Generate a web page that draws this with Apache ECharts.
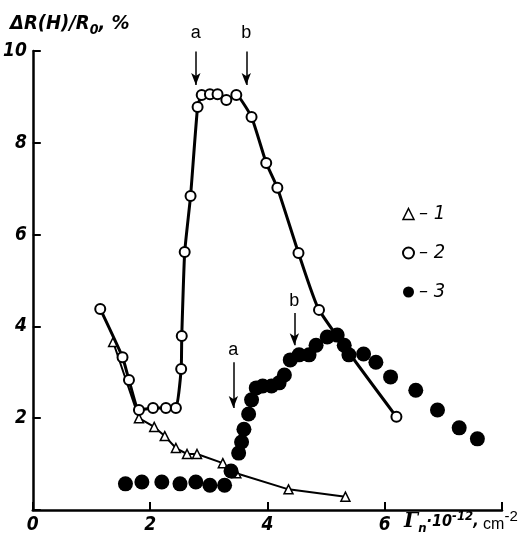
<!DOCTYPE html>
<html>
<head>
<meta charset="utf-8">
<script src="https://cdn.jsdelivr.net/npm/echarts@6/dist/echarts.min.js"></script>
<style>
  html, body { margin: 0; padding: 0; background: #fff; }
  #chart { width: 531px; height: 545px; }
</style>
</head>
<body>
<div id="chart"></div>
<script>
// series 1 : triangles
const s1X = [1.37, 1.81, 2.07, 2.25, 2.44, 2.63, 2.80, 3.24, 3.47, 4.36, 5.33];
const s1Y = [3.66, 2.00, 1.81, 1.61, 1.35, 1.22, 1.22, 1.02, 0.80, 0.45, 0.29];
// series 2 : open circles
const s2X = [1.15, 1.53, 1.64, 1.81, 2.05, 2.27, 2.44, 2.53, 2.54, 2.59, 2.69, 2.81, 2.88, 3.02, 3.15, 3.30, 3.47, 3.73, 3.98, 4.17, 4.53, 4.88, 6.20];
const s2Y = [4.38, 3.33, 2.83, 2.18, 2.22, 2.22, 2.22, 3.07, 3.79, 5.62, 6.84, 8.78, 9.04, 9.06, 9.06, 8.93, 9.04, 8.56, 7.56, 7.02, 5.60, 4.36, 2.03];
// series 3 : filled circles
const s3X = [1.58, 1.86, 2.20, 2.51, 2.78, 3.02, 3.27, 3.38, 3.51, 3.56, 3.60, 3.68, 3.73, 3.81, 3.92, 4.07, 4.20, 4.29, 4.39, 4.54, 4.71, 4.83, 5.02, 5.19, 5.31, 5.39, 5.64, 5.85, 6.10, 6.53, 6.90, 7.27, 7.58];
const s3Y = [0.57, 0.61, 0.61, 0.57, 0.61, 0.54, 0.54, 0.85, 1.24, 1.48, 1.76, 2.09, 2.40, 2.66, 2.70, 2.70, 2.77, 2.94, 3.27, 3.38, 3.38, 3.59, 3.77, 3.81, 3.59, 3.38, 3.40, 3.22, 2.90, 2.61, 2.18, 1.79, 1.55];
// arrows: [label, x, yFrom, yTo, labelDistance]
const arrows = [
  ['a', 2.78, 9.99, 9.26, 9],
  ['b', 3.64, 9.99, 9.26, 9],
  ['a', 3.42, 3.22, 2.22, 3],
  ['b', 4.46, 4.29, 3.59, 3]
];
const xTicks = [0, 2, 4, 6];
const yTicks = [2, 4, 6, 8, 10];

const zip = (xs, ys) => xs.map((x, i) => [x, ys[i]]);
const labelFont = {
  fontFamily: 'Liberation Sans Narrow, DejaVu Sans Condensed, sans-serif',
  fontStyle: 'italic', fontWeight: 'bold', color: '#000'
};

let chart = echarts.init(document.getElementById('chart'));
chart.setOption({
  backgroundColor: '#fff',
  animation: false,
  grid: { left: 32, right: 29, top: 51, bottom: 35 },
  xAxis: {
    type: 'value', min: 0, max: 8, interval: 2,
    axisLine: { show: true, onZero: false, lineStyle: { color: '#000', width: 2.5 } },
    axisTick: { show: true, inside: true, length: 8, lineStyle: { color: '#000', width: 2 } },
    splitLine: { show: false },
    axisLabel: {
      ...labelFont, fontSize: 19, margin: 6, showMaxLabel: true,
      formatter: v => xTicks.includes(v) ? String(v) : ''
    }
  },
  yAxis: {
    type: 'value', min: 0, max: 10, interval: 2,
    axisLine: { show: true, lineStyle: { color: '#000', width: 2.5 } },
    axisTick: { show: true, inside: true, length: 8, lineStyle: { color: '#000', width: 2 } },
    splitLine: { show: false },
    axisLabel: {
      ...labelFont, fontSize: 19, margin: 6,
      formatter: v => yTicks.includes(v) ? String(v) : ''
    }
  },
  legend: {
    orient: 'vertical', left: 397, top: 199, itemGap: 19,
    itemWidth: 11, itemHeight: 11,
    textStyle: { ...labelFont, fontSize: 20, fontWeight: 'normal' },
    formatter: name => '– ' + name,
    data: [
      { name: '1', icon: 'triangle', itemStyle: { color: '#fff', borderColor: '#000', borderWidth: 1.5 } },
      { name: '2', icon: 'circle', itemStyle: { color: '#fff', borderColor: '#000', borderWidth: 2 } },
      { name: '3', icon: 'circle', itemStyle: { color: '#000' } }
    ]
  },
  series: [
    {
      name: '1', type: 'line', data: zip(s1X, s1Y),
      symbol: 'triangle', symbolSize: 9,
      lineStyle: { color: '#000', width: 2 },
      itemStyle: { color: '#fff', borderColor: '#000', borderWidth: 1.5 },
      z: 3
    },
    {
      name: '2', type: 'line', data: zip(s2X, s2Y), smooth: 0.15,
      symbol: 'circle', symbolSize: 10, clip: false,
      lineStyle: { color: '#000', width: 3 },
      itemStyle: { color: '#fff', borderColor: '#000', borderWidth: 2 },
      z: 4,
      markLine: {
        silent: true, animation: false,
        lineStyle: { color: '#000', width: 1.5, type: 'solid' },
        symbol: ['none', 'arrow'], symbolSize: [7, 12],
        label: { show: true, position: 'start', fontSize: 18, color: '#000', fontFamily: 'Liberation Sans, sans-serif', formatter: p => p.name },
        data: arrows.map(a => [
          { name: a[0], coord: [a[1], a[2]], label: { distance: a[4] } },
          { coord: [a[1], a[3]] }
        ])
      }
    },
    {
      name: '3', type: 'scatter', data: zip(s3X, s3Y),
      symbol: 'circle', symbolSize: 15,
      itemStyle: { color: '#000', opacity: 1 },
      z: 5
    }
  ],
  graphic: [
    {
      type: 'text', left: 10, top: 14,
      style: {
        rich: {
          m: { ...labelFont, fontSize: 20 },
          s: { ...labelFont, fontSize: 14, padding: [12, 0, 0, 0] }
        },
        text: '{m|ΔR(H)/R}{s|0}{m|, %}'
      }
    },
    {
      type: 'text', left: 404, top: 509,
      style: {
        rich: {
          m: { ...labelFont, fontSize: 20, fontFamily: 'DejaVu Serif, serif' },
          s: { ...labelFont, fontSize: 13, padding: [14, 0, 0, 0] },
          n: { ...labelFont, fontSize: 16 },
          u: { ...labelFont, fontSize: 13, padding: [0, 0, 10, 0] },
          c: { fontFamily: 'Liberation Sans, sans-serif', fontSize: 16, color: '#000', padding: [6, 0, 0, 0] },
          k: { fontFamily: 'Liberation Sans, sans-serif', fontSize: 15, color: '#000', padding: [0, 0, 10, 0] }
        },
        text: '{m|Γ}{s|n}{n|·10}{u|-12}{n|,}{c| cm}{k|-2}'
      }
    }
  ]
});
window.addEventListener('resize', () => chart.resize());
</script>
</body>
</html>
